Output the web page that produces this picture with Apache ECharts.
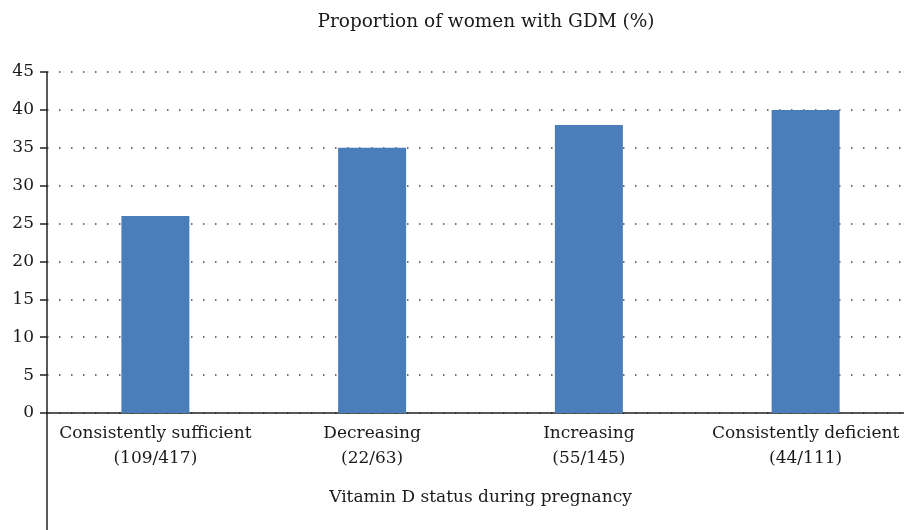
<!DOCTYPE html>
<html><head><meta charset="utf-8">
<script src="https://cdn.jsdelivr.net/npm/echarts@6/dist/echarts.min.js"></script>
<style>html,body{margin:0;padding:0;background:#fff}#c{width:904px;height:530px}</style>
</head><body><div id="c"></div>
<script>
const categories = ['Consistently sufficient\n(109/417)', 'Decreasing\n(22/63)', 'Increasing\n(55/145)', 'Consistently deficient\n(44/111)'];
const values = [26, 35, 38, 40];
const titleText = 'Proportion of women with GDM (%)';
const xName = 'Vitamin D status during pregnancy';
const font = 'DejaVu Serif';
const chart = echarts.init(document.getElementById('c'));
const gridLeft = 47, gridTop = 72, gridBottom = 117, gridWidth = 867;
chart.setOption({
  animation: false,
  title: {text: titleText, left: 481, textAlign: 'center', top: 8,
    textStyle: {fontFamily: font, fontSize: 18.5, fontWeight: 'normal', color: '#1a1a1a'}},
  grid: {left: gridLeft, width: gridWidth, top: gridTop, bottom: gridBottom, containLabel: false, outerBoundsMode: 'none'},
  xAxis: {type: 'category', data: categories,
    name: xName, nameLocation: 'middle', nameGap: 76,
    nameTextStyle: {fontFamily: font, fontSize: 17, color: '#1a1a1a'},
    axisLine: {lineStyle: {color: '#222', width: 1.5}},
    axisTick: {show: false},
    axisLabel: {fontFamily: font, fontSize: 17, color: '#1a1a1a', lineHeight: 25, margin: 8, interval: 0}},
  yAxis: {type: 'value', min: 0, max: 45, interval: 5,
    axisLine: {show: true, lineStyle: {color: '#222', width: 1.5}},
    axisTick: {show: true, length: 7, lineStyle: {color: '#222', width: 1.5}},
    axisLabel: {fontFamily: font, fontSize: 17, color: '#1a1a1a', margin: 13},
    splitLine: {show: true, lineStyle: {color: '#444', width: 1.5, type: [1.5, 10.5]}}},
  series: [{type: 'bar', data: values, barWidth: 68, itemStyle: {color: '#4a7ebb'}}],
  graphic: [{type: 'line', shape: {x1: gridLeft, y1: 530 - gridBottom, x2: gridLeft, y2: 530},
    style: {stroke: '#222', lineWidth: 1.5}}]
});
</script></body></html>
